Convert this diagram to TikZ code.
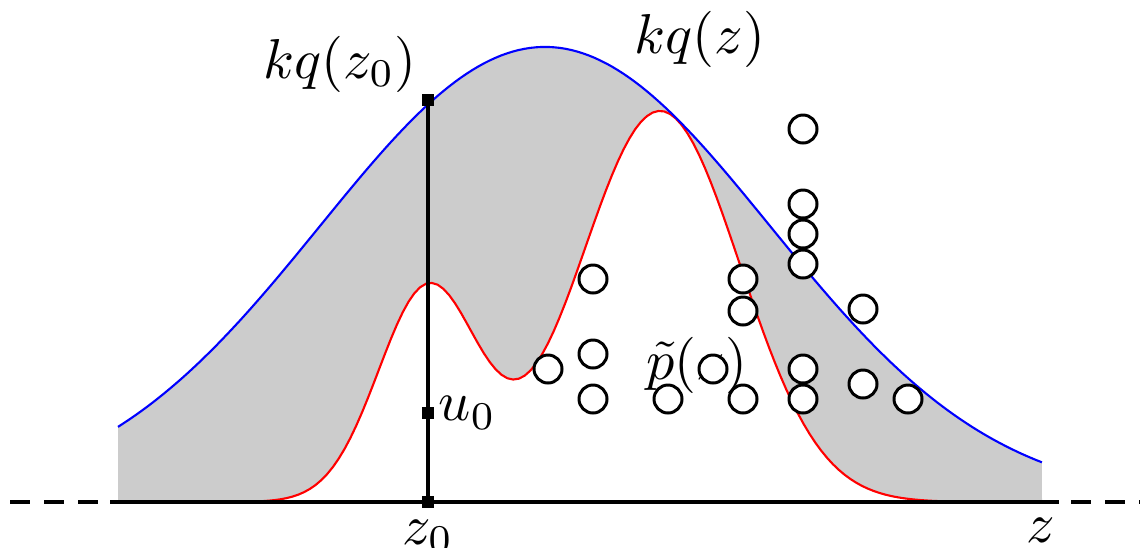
\documentclass[tikz,border=0pt]{standalone}
\usepackage{amsmath,amssymb}
\usepackage{tikz}
\usetikzlibrary{arrows.meta,positioning,calc}
\usepackage{xcolor}

\definecolor{bandgray}{RGB}{204,204,204}
\tikzset{
  lbl/.style={inner sep=0pt, scale=1.6},
  obs/.style={circle, draw, fill=white, line width=0.85pt, minimum size=0.28cm, inner sep=0pt},
  sq/.style={rectangle, fill=black, minimum size=0.12cm, inner sep=0pt},
  axisline/.style={line width=1.1pt},
  dashaxis/.style={line width=1.1pt, dash pattern=on 0.2cm off 0.14cm}
}

\begin{document}
\begin{tikzpicture}[declare function={
      kq(\x)=4.55*exp(-((\x-5.45)*(\x-5.45))/(2*2.25*2.25));
      pt(\x)=2.13*exp(-((\x-4.28)*(\x-4.28))/(2*0.5*0.5))+3.91*exp(-((\x-6.60)*(\x-6.60))/(2*0.8*0.8));}]
			\useasboundingbox (0,-0.45) rectangle (11.40,5.02);
			% shaded region between envelope and target
			\fill[bandgray] plot[domain=1.18:10.42, samples=160] (\x,{kq(\x)})
				-- plot[domain=10.42:1.18, samples=160] (\x,{pt(\x)}) -- cycle;
			\draw[red, line width=0.6pt] plot[domain=1.18:10.42, samples=160] (\x,{pt(\x)});
			\draw[blue, line width=0.6pt] plot[domain=1.18:10.42, samples=160] (\x,{kq(\x)});
			% axis
			\coordinate (ax0) at (0.10,0);
			\coordinate (ax1) at (1.10,0);
			\coordinate (ax2) at (10.59,0);
			\coordinate (ax3) at (10.71,0);
			\coordinate (ax4) at (11.40,0);
			\draw[dashaxis] (ax0) -- (ax1);
			\draw[axisline] (ax1) -- (ax2);
			\draw[dashaxis] (ax3) -- (ax4);
			% sample at z0
			\node[sq] (zb) at (4.28,0) {};
			\node[sq] (zu) at (4.28,0.89) {};
			\node[sq] (zt) at (4.28,4.02) {};
			\draw[axisline] (zb.center) -- (zt.center);
			\node[lbl] (kqzo) at (3.40,4.38) {$kq(z_0)$};
			\node[lbl] (kqz) at (7.00,4.63) {$kq(z)$};
			\node[lbl] (ulab) at (4.675,0.89) {$u_0$};
			\node[lbl, anchor=base] (zolab) at (4.28,-0.42) {$z_0$};
			\node[lbl, anchor=base] (zlab) at (10.41,-0.40) {$z$};
			\node[lbl] (plab) at (6.97,1.37) {$\tilde{p}(z)$};
			% accepted samples
			\foreach \px/\py [count=\i] in {5.48/1.33, 5.93/2.23, 5.93/1.48, 5.93/1.03, 6.68/1.03,
				7.13/1.33, 7.43/2.23, 7.43/1.91, 7.43/1.03, 8.03/3.73, 8.03/2.98, 8.03/2.68,
				8.03/2.38, 8.03/1.33, 8.03/1.03, 8.63/1.93, 8.63/1.18, 9.08/1.03}
				\node[obs] (s\i) at (\px,\py) {};
		\end{tikzpicture}
\end{document}
